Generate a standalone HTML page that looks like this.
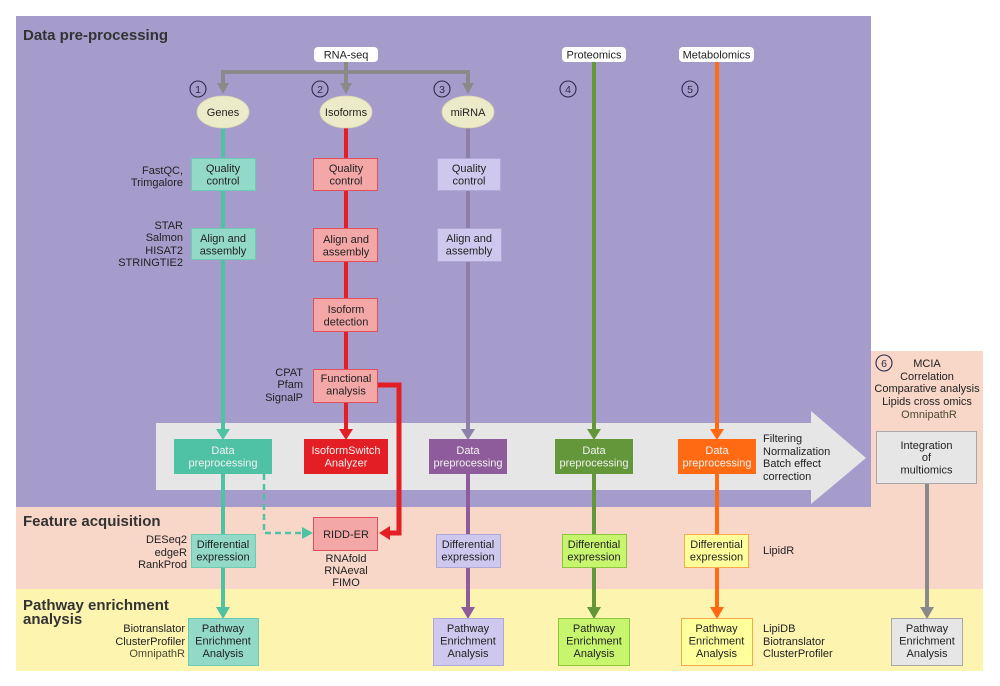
<!DOCTYPE html>
<html><head><meta charset="utf-8"><style>
html,body{margin:0;padding:0;background:#fff;}
svg{display:block;}
text{font-family:"Liberation Sans",Arial,sans-serif;}
</style></head><body>
<svg width="1000" height="686" viewBox="0 0 1000 686" xmlns="http://www.w3.org/2000/svg">
<!-- backgrounds -->
<rect x="0" y="0" width="1000" height="686" fill="#ffffff"/>
<rect x="16" y="16" width="855" height="491" fill="#a59ccc"/>
<rect x="16" y="507" width="967" height="82" fill="#f8d6c8"/>
<rect x="871" y="351" width="112" height="156" fill="#f8d6c8"/>
<rect x="16" y="589" width="967" height="82" fill="#fdf4b0"/>
<!-- big gray arrow -->
<path d="M156,423 L811,423 L811,411 L866,458 L811,504 L811,490 L156,490 Z" fill="#e6e6e6"/>

<!-- titles -->
<text x="23" y="40" font-size="15" font-weight="bold" fill="#333">Data pre-processing</text>
<text x="23" y="526" font-size="15" font-weight="bold" fill="#333">Feature acquisition</text>
<text x="23" y="610" font-size="15" font-weight="bold" fill="#333">Pathway enrichment</text>
<text x="23" y="624" font-size="15" font-weight="bold" fill="#333">analysis</text>

<!-- RNA-seq gray connector -->
<g stroke="#8a8a8a" stroke-width="4" fill="none">
<line x1="346" y1="62" x2="346" y2="72"/>
<line x1="221" y1="72" x2="470" y2="72"/>
<line x1="223" y1="72" x2="223" y2="84"/>
<line x1="346" y1="72" x2="346" y2="84"/>
<line x1="468" y1="72" x2="468" y2="84"/>
</g>
<g fill="#8a8a8a">
<path d="M217,83 L229,83 L223,94 Z"/>
<path d="M340,83 L352,83 L346,94 Z"/>
<path d="M462,83 L474,83 L468,94 Z"/>
</g>

<!-- source boxes -->
<rect x="314" y="47" width="64" height="15" rx="4" fill="#fff"/>
<text x="346" y="58.5" font-size="11" text-anchor="middle" fill="#222">RNA-seq</text>
<rect x="562" y="47" width="64" height="15" rx="4" fill="#fff"/>
<text x="594" y="58.5" font-size="11" text-anchor="middle" fill="#222">Proteomics</text>
<rect x="679" y="47" width="75" height="15" rx="4" fill="#fff"/>
<text x="716.5" y="58.5" font-size="11" text-anchor="middle" fill="#222">Metabolomics</text>

<!-- circled numbers -->
<g fill="none" stroke="#2e2a4a" stroke-width="1.1">
<circle cx="198" cy="89" r="8"/>
<circle cx="320" cy="89" r="8"/>
<circle cx="442" cy="89" r="8"/>
<circle cx="568" cy="89" r="8"/>
<circle cx="690" cy="89" r="8"/>
<circle cx="884" cy="363" r="8"/>
</g>
<g font-size="10.5" text-anchor="middle" fill="#2e2a4a">
<text x="198" y="93">1</text>
<text x="320" y="93">2</text>
<text x="442" y="93">3</text>
<text x="568" y="93">4</text>
<text x="690" y="93">5</text>
<text x="884" y="367">6</text>
</g>

<!-- Genes teal -->
<g stroke="#4fc2a4" stroke-width="4">
<line x1="223" y1="128" x2="223" y2="430"/>
<line x1="223" y1="474" x2="223" y2="534"/>
<line x1="223" y1="567" x2="223" y2="608"/>
</g>
<g fill="#4fc2a4">
<path d="M216,429 L230,429 L223,440 Z"/>
<path d="M216,607 L230,607 L223,619 Z"/>
</g>
<!-- dashed teal to RIDD-ER -->
<path d="M264,474 L264,533 L304,533" stroke="#4fc2a4" stroke-width="2.5" stroke-dasharray="6,4" fill="none"/>
<path d="M302,527 L313,533 L302,539 Z" fill="#4fc2a4"/>

<!-- Isoforms red -->
<g stroke="#e31e24" stroke-width="4" fill="none">
<line x1="346" y1="128" x2="346" y2="430"/>
<path d="M378,385 L399,385 L399,533 L388,533" stroke-width="5"/>
</g>
<g fill="#e31e24">
<path d="M339,429 L353,429 L346,440 Z"/>
<path d="M390,526 L390,540 L379,533 Z"/>
</g>

<!-- miRNA -->
<g stroke="#8c7fa8" stroke-width="4">
<line x1="468" y1="128" x2="468" y2="430"/>
</g>
<g stroke="#8e5c9a" stroke-width="4">
<line x1="468" y1="474" x2="468" y2="534"/>
<line x1="468" y1="567" x2="468" y2="608"/>
</g>
<path d="M461,429 L475,429 L468,440 Z" fill="#8c7fa8"/>
<path d="M461,607 L475,607 L468,619 Z" fill="#8e5c9a"/>

<!-- Proteomics green -->
<g stroke="#63973a" stroke-width="4">
<line x1="594" y1="62" x2="594" y2="430"/>
<line x1="594" y1="474" x2="594" y2="534"/>
<line x1="594" y1="567" x2="594" y2="608"/>
</g>
<g fill="#63973a">
<path d="M587,429 L601,429 L594,440 Z"/>
<path d="M587,607 L601,607 L594,619 Z"/>
</g>

<!-- Metabolomics orange -->
<g stroke="#ff6a13" stroke-width="4">
<line x1="717" y1="62" x2="717" y2="430"/>
<line x1="717" y1="474" x2="717" y2="534"/>
<line x1="717" y1="567" x2="717" y2="608"/>
</g>
<g fill="#ff6a13">
<path d="M710,429 L724,429 L717,440 Z"/>
<path d="M710,607 L724,607 L717,619 Z"/>
</g>

<!-- Integration gray -->
<line x1="927" y1="483" x2="927" y2="608" stroke="#8a8a8a" stroke-width="4"/>
<path d="M920,607 L934,607 L927,619 Z" fill="#8a8a8a"/>

<!-- ellipses -->
<g fill="#ecebc9" stroke="#d9d7ad" stroke-width="0.8">
<ellipse cx="223" cy="112" rx="26" ry="16"/>
<ellipse cx="346" cy="112" rx="26" ry="16"/>
<ellipse cx="468" cy="112" rx="26" ry="16"/>
</g>
<g font-size="11" text-anchor="middle" fill="#222">
<text x="223" y="116">Genes</text>
<text x="346" y="116">Isoforms</text>
<text x="468" y="116">miRNA</text>
</g>

<!-- Genes boxes -->
<g fill="#93d9c7" stroke="#6ccbb2" stroke-width="1">
<rect x="191.5" y="158.5" width="64" height="32"/>
<rect x="191.5" y="228.5" width="64" height="31"/>
<rect x="191.5" y="534.5" width="64" height="33"/>
<rect x="188.5" y="618.5" width="70" height="47"/>
</g>
<rect x="174" y="439" width="98" height="35" fill="#4fc2a4"/>

<!-- Isoform boxes -->
<g fill="#f4a7a7" stroke="#e0505a" stroke-width="1">
<rect x="313.5" y="158.5" width="64" height="32"/>
<rect x="313.5" y="228.5" width="64" height="33"/>
<rect x="313.5" y="298.5" width="64" height="33"/>
<rect x="313.5" y="369.5" width="64" height="33"/>
<rect x="313.5" y="517.5" width="64" height="33"/>
</g>
<rect x="304" y="439" width="84" height="35" fill="#e31e24"/>

<!-- miRNA boxes -->
<g fill="#cec8ee" stroke="#b2a8d8" stroke-width="1">
<rect x="437.5" y="158.5" width="63" height="32"/>
<rect x="437.5" y="228.5" width="64" height="33"/>
<rect x="436.5" y="534.5" width="64" height="33"/>
<rect x="433.5" y="618.5" width="70" height="47"/>
</g>
<rect x="429" y="439" width="78" height="35" fill="#8e5c9a"/>

<!-- Proteomics boxes -->
<rect x="555" y="439" width="78" height="35" fill="#63973a"/>
<g fill="#c8f56e" stroke="#8cc63f" stroke-width="1">
<rect x="562.5" y="534.5" width="64" height="33"/>
<rect x="558.5" y="618.5" width="71" height="47"/>
</g>

<!-- Metabolomics boxes -->
<rect x="678" y="439" width="78" height="35" fill="#ff6a13"/>
<g fill="#ffff9c" stroke="#f7a84a" stroke-width="1">
<rect x="684.5" y="534.5" width="64" height="33"/>
<rect x="681.5" y="618.5" width="71" height="47"/>
</g>

<!-- Integration boxes -->
<g fill="#e6e6e6" stroke="#a8a8a8" stroke-width="1">
<rect x="876.5" y="431.5" width="100" height="52"/>
<rect x="891.5" y="618.5" width="71" height="47"/>
</g>

<!-- box texts dark -->
<g font-size="11" text-anchor="middle" fill="#222">
<text x="223" y="172">Quality</text><text x="223" y="184.5">control</text>
<text x="223" y="242">Align and</text><text x="223" y="254.5">assembly</text>
<text x="223" y="548">Differential</text><text x="223" y="560.5">expression</text>
<text x="223" y="632">Pathway</text><text x="223" y="644.5">Enrichment</text><text x="223" y="657">Analysis</text>

<text x="346" y="172">Quality</text><text x="346" y="184.5">control</text>
<text x="346" y="243">Align and</text><text x="346" y="255.5">assembly</text>
<text x="346" y="313">Isoform</text><text x="346" y="325.5">detection</text>
<text x="346" y="382">Functional</text><text x="346" y="394.5">analysis</text>
<text x="346" y="538">RIDD-ER</text>

<text x="469" y="172">Quality</text><text x="469" y="184.5">control</text>
<text x="469" y="242">Align and</text><text x="469" y="254.5">assembly</text>
<text x="468" y="548">Differential</text><text x="468" y="560.5">expression</text>
<text x="468" y="632">Pathway</text><text x="468" y="644.5">Enrichment</text><text x="468" y="657">Analysis</text>

<text x="594" y="548">Differential</text><text x="594" y="560.5">expression</text>
<text x="594" y="632">Pathway</text><text x="594" y="644.5">Enrichment</text><text x="594" y="657">Analysis</text>

<text x="716.5" y="548">Differential</text><text x="716.5" y="560.5">expression</text>
<text x="716.5" y="632">Pathway</text><text x="716.5" y="644.5">Enrichment</text><text x="716.5" y="657">Analysis</text>

<text x="926.5" y="449">Integration</text><text x="926.5" y="461">of</text><text x="926.5" y="473.5">multiomics</text>
<text x="927" y="632">Pathway</text><text x="927" y="644.5">Enrichment</text><text x="927" y="657">Analysis</text>
</g>

<!-- box texts white -->
<g font-size="11" text-anchor="middle" fill="#f2f2f2">
<text x="223" y="454">Data</text><text x="223" y="466.5">preprocessing</text>
<text x="346" y="454">IsoformSwitch</text><text x="346" y="466.5">Analyzer</text>
<text x="468" y="454">Data</text><text x="468" y="466.5">preprocessing</text>
<text x="594" y="454">Data</text><text x="594" y="466.5">preprocessing</text>
<text x="717" y="454">Data</text><text x="717" y="466.5">preprocessing</text>
</g>

<!-- side labels -->
<g font-size="11" fill="#222" text-anchor="end">
<text x="183" y="174">FastQC,</text><text x="183" y="186">Trimgalore</text>
<text x="183" y="229">STAR</text><text x="183" y="241">Salmon</text><text x="183" y="254">HISAT2</text><text x="183" y="266">STRINGTIE2</text>
<text x="303" y="376">CPAT</text><text x="303" y="388">Pfam</text><text x="303" y="401">SignalP</text>
<text x="187" y="543">DESeq2</text><text x="187" y="556">edgeR</text><text x="187" y="568">RankProd</text>
<text x="185" y="632">Biotranslator</text><text x="185" y="645">ClusterProfiler</text>
<text x="185" y="657" fill="#4a4a30">OmnipathR</text>
</g>
<g font-size="11" fill="#222" text-anchor="middle">
<text x="346" y="562">RNAfold</text><text x="346" y="574">RNAeval</text><text x="346" y="586">FIMO</text>
<text x="927" y="367">MCIA</text>
<text x="927" y="380">Correlation</text>
<text x="927" y="392">Comparative analysis</text>
<text x="927" y="405">Lipids cross omics</text>
<text x="929" y="418" fill="#4a4a30">OmnipathR</text>
</g>
<g font-size="11" fill="#222">
<text x="763" y="442">Filtering</text><text x="763" y="455">Normalization</text><text x="763" y="467">Batch effect</text><text x="763" y="480">correction</text>
<text x="763" y="554">LipidR</text>
<text x="763" y="632">LipiDB</text><text x="763" y="645">Biotranslator</text><text x="763" y="657">ClusterProfiler</text>
</g>
</svg>
</body></html>
